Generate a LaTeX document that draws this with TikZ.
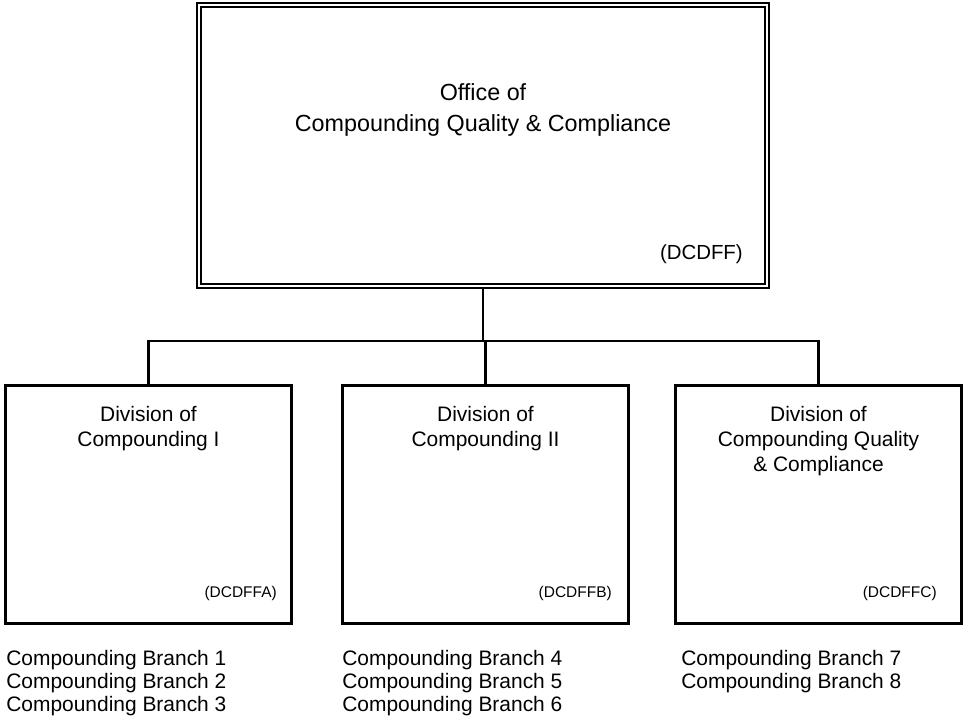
\documentclass[tikz,border=0pt]{standalone}
\usepackage{fontspec}
\setmainfont{Liberation Sans}
\usetikzlibrary{positioning}

\begin{document}
\begin{tikzpicture}[x=0.025cm, y=-0.025cm,
  office/.style={draw, double, line width=1.4pt, double distance=1.5pt, minimum width=14.2cm, minimum height=7.02cm, inner sep=0},
  division/.style={draw, line width=1.7pt, minimum width=7.15cm, minimum height=5.95cm, inner sep=0},
  title/.style={align=center, inner sep=0, anchor=north, font=\fontsize{14.9}{17.7}\selectfont},
  code/.style={inner sep=0, anchor=east, font=\fontsize{11}{13}\selectfont},
  branches/.style={align=left, inner sep=0, anchor=north west, font=\fontsize{14.9}{16.3}\selectfont},
  link/.style={line width=1.5pt}]
\useasboundingbox (0,0) rectangle (963,719);
\node[office] (off) at (483,145.5) {};
\node[title, font=\fontsize{16.6}{22}\selectfont] (offtitle) at (483,83) {Office of\\Compounding Quality \& Compliance};
\node[code, font=\fontsize{14.5}{17}\selectfont] (offcode) at (743,254) {(DCDFF)};
\node[division] (div1) at (148.5,504.5) {};
\node[division] (div2) at (485.5,504.5) {};
\node[division] (div3) at (818.5,504.5) {};
\coordinate (bus) at (483,341);
% Titles
\node[title] (div1title) at (148.5,406) {Division of\\Compounding I};
\node[title] (div2title) at (485.5,406) {Division of\\Compounding II};
\node[title] (div3title) at (818.5,406) {Division of\\Compounding Quality\\\& Compliance};
\node[code] (div1code) at (277,593) {(DCDFFA)};
\node[code] (div2code) at (612,593) {(DCDFFB)};
\node[code] (div3code) at (937,593) {(DCDFFC)};
% Branches
\node[branches] (br1) at (6,650) {Compounding Branch 1\\Compounding Branch 2\\Compounding Branch 3};
\node[branches] (br2) at (342,650) {Compounding Branch 4\\Compounding Branch 5\\Compounding Branch 6};
\node[branches] (br3) at (681,650) {Compounding Branch 7\\Compounding Branch 8};
% Lines
\draw[link] (off.south) -- (off.south |- bus);
\draw[link] (div1.north) |- (bus) -| (div3.north);
\draw[link] (div2.north |- bus) -- (div2.north);
\end{tikzpicture}
\end{document}
